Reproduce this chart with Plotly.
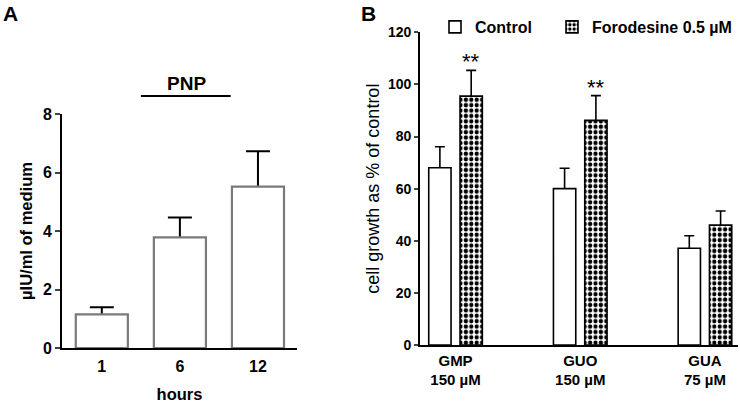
import plotly.graph_objects as go

# ---- data ----
HOURS = ["1", "6", "12"]
PNP_MEAN = [1.15, 3.78, 5.52]
PNP_ERR = [0.24, 0.68, 1.21]

COMPOUNDS = ["GMP<br>150 µM", "GUO<br>150 µM", "GUA<br>75 µM"]
CONTROL_MEAN = [68.0, 60.0, 37.1]
CONTROL_ERR = [8.1, 7.8, 4.8]
FORO_MEAN = [95.5, 86.2, 46.0]
FORO_ERR = [9.9, 9.5, 5.4]
STARS = ["**", "**", ""]

FONT = "Arial, Liberation Sans, sans-serif"
BW = 0.179          # bar width in panel B (category units)
OFF_C, OFF_F = -0.215, 0.036
CLEAR = dict(color="rgba(0,0,0,0)", line=dict(width=0))

fig = go.Figure()


def err_only(x, y, err, xa, ya, width, offset, thick, cap):
    # transparent bar carrying symmetric error bars; the real bar drawn next
    # covers the lower half, so only the upper whisker shows
    fig.add_trace(go.Bar(
        x=x, y=y, width=width, offset=offset, xaxis=xa, yaxis=ya, marker=CLEAR,
        error_y=dict(type="data", array=err, color="black", thickness=thick, width=cap),
        showlegend=False, hoverinfo="skip",
    ))


# ---- panel A ----
err_only(HOURS, PNP_MEAN, PNP_ERR, "x", "y", 0.667, -0.3335, 2, 12)
fig.add_trace(go.Bar(
    x=HOURS, y=PNP_MEAN, width=0.667, offset=-0.3335, xaxis="x", yaxis="y",
    marker=dict(color="white", line=dict(color="#7a7a7a", width=2.2)),
    showlegend=False,
))

# ---- panel B ----
err_only(COMPOUNDS, CONTROL_MEAN, CONTROL_ERR, "x2", "y2", BW, OFF_C, 1.6, 5)
err_only(COMPOUNDS, FORO_MEAN, FORO_ERR, "x2", "y2", BW, OFF_F, 1.6, 5)
fig.add_trace(go.Bar(
    x=COMPOUNDS, y=CONTROL_MEAN, name="Control", width=BW, offset=OFF_C,
    xaxis="x2", yaxis="y2", legend="legend",
    marker=dict(color="white", line=dict(color="black", width=1.6)),
))
fig.add_trace(go.Bar(
    x=COMPOUNDS, y=FORO_MEAN, name="Forodesine 0.5 µM", width=BW, offset=OFF_F,
    xaxis="x2", yaxis="y2", legend="legend2",
    marker=dict(color="white", line=dict(color="black", width=1.6),
                pattern=dict(shape=".", fgcolor="black", bgcolor="white",
                             size=5.4, solidity=0.5, fillmode="replace")),
))

annotations = [
    dict(text="<b>A</b>", x=0.002, y=1.0, xref="paper", yref="paper",
         xanchor="left", yanchor="top", showarrow=False, font=dict(size=21)),
    dict(text="<b>B</b>", x=0.485, y=1.0, xref="paper", yref="paper",
         xanchor="left", yanchor="top", showarrow=False, font=dict(size=21)),
    dict(text="<b>PNP</b>", x=187 / 740, y=1 - 83 / 403, xref="paper", yref="paper",
         xanchor="center", yanchor="middle", showarrow=False, font=dict(size=19)),
]
for i, s in enumerate(STARS):
    if s:
        annotations.append(dict(
            text=s, x=i + OFF_F + BW / 2, y=FORO_MEAN[i] + FORO_ERR[i],
            xref="x2", yref="y2", yanchor="bottom", showarrow=False,
            font=dict(size=22), yshift=-6))

axis_common = dict(showline=True, linecolor="black", showgrid=False, zeroline=False,
                   automargin=False)
legend_common = dict(orientation="h", y=1 - 10 / 403, xanchor="left", yanchor="top",
                     font=dict(size=16, weight="bold"), bgcolor="rgba(0,0,0,0)")

fig.update_layout(
    width=740, height=403,
    margin=dict(l=0, r=0, t=0, b=0, autoexpand=False),
    paper_bgcolor="white", plot_bgcolor="white",
    font=dict(family=FONT, color="black"),
    barmode="overlay",
    xaxis=dict(domain=[62 / 740, 297 / 740], range=[-0.51, 2.5], type="category",
               linewidth=2, ticks="", ticklabelstandoff=3,
               tickfont=dict(size=16, weight="bold"),
               title=dict(text="<b>hours</b>", font=dict(size=16.5), standoff=14),
               **axis_common),
    yaxis=dict(domain=[1 - 348 / 403, 1 - 114 / 403], range=[0, 8], dtick=2,
               linewidth=2, ticks="outside", ticklen=5, tickwidth=2,
               tickfont=dict(size=16, weight="bold"),
               title=dict(text="<b>µIU/ml of medium</b>", font=dict(size=16.5), standoff=6),
               **axis_common),
    xaxis2=dict(domain=[420 / 740, 738 / 740], range=[-0.285, 2.265], type="category",
                anchor="y2", linewidth=1.8, ticks="", ticklabelstandoff=1,
                tickfont=dict(size=15, weight="bold"), **axis_common),
    yaxis2=dict(domain=[1 - 345 / 403, 1 - 32.3 / 403], range=[0, 120], dtick=20,
                anchor="x2", linewidth=1.8, ticks="outside", ticklen=4, tickwidth=1.8,
                tickfont=dict(size=14, weight="bold"),
                title=dict(text="cell growth as % of control", font=dict(size=18), standoff=4),
                **axis_common),
    legend=dict(x=435 / 740, **legend_common),
    legend2=dict(x=552 / 740, **legend_common),
    shapes=[dict(type="line", xref="x", yref="paper", x0=0.5, x1=1.65,
                 y0=1 - 96 / 403, y1=1 - 96 / 403, line=dict(color="black", width=2))],
    annotations=annotations,
)

# drop the browser's default body margin so the figure fills the window
fig.write_html("out.html", post_script="document.body.style.margin='0';",
               config={"displayModeBar": False})
